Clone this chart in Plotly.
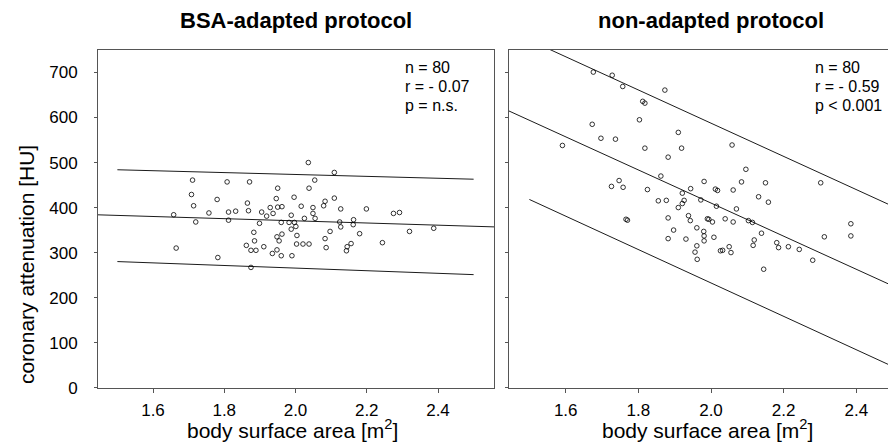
import plotly.graph_objects as go

W, H = 896, 446

# ---------------- data ----------------
bsa_adapted = [
    2.036, 1.711, 1.808, 1.871, 2.054, 1.950, 2.038, 1.708, 1.780, 1.946,
    1.996, 1.865, 1.714, 1.929, 1.950, 1.962, 2.016, 2.049, 2.079, 2.083,
    1.757, 1.812, 1.832, 1.868, 1.905, 1.919, 1.937, 1.988, 2.049, 1.658,
    1.720, 1.812, 1.899, 1.960, 1.982, 1.997, 2.025, 2.055, 2.001, 1.988,
    1.883, 1.962, 1.948, 2.004, 1.954, 1.885, 2.083, 1.862, 1.875, 1.889,
    1.911, 2.003, 2.021, 2.038, 1.665, 2.086, 1.948, 1.935, 1.960, 1.990,
    1.782, 1.875, 2.109, 2.109, 2.127, 2.199, 2.275, 2.292, 2.124, 2.163,
    2.162, 2.127, 2.388, 2.097, 2.180, 2.320, 2.156, 2.145, 2.244, 2.143,
]
hu_adapted = [
    500, 461, 457, 457, 461, 443, 443, 429, 418, 420,
    423, 410, 404, 400, 401, 402, 403, 400, 404, 414,
    388, 390, 392, 393, 390, 381, 387, 383, 387, 384,
    368, 372, 365, 367, 367, 367, 376, 376, 358, 352,
    345, 341, 335, 338, 326, 326, 331, 316, 305, 305,
    313, 319, 319, 319, 310, 311, 306, 298, 293, 293,
    289, 267, 478, 421, 397, 397, 387, 389, 368, 373,
    362, 357, 354, 347, 342, 347, 320, 313, 322, 304,
]

bsa_nonadapted = [
    1.676, 1.728, 1.757, 1.873, 1.812, 1.818, 1.803, 1.673, 1.910, 1.697,
    1.737, 1.591, 1.818, 1.919, 1.882, 1.862, 1.981, 1.747, 1.726, 1.758,
    1.825, 1.944, 1.921, 2.012, 2.018, 1.855, 1.877, 1.926, 1.921, 1.910,
    1.972, 2.015, 1.766, 1.770, 1.882, 1.938, 1.943, 1.990, 1.994, 2.004,
    1.897, 1.961, 1.980, 1.981, 1.981, 2.008, 1.882, 1.931, 1.961, 1.956,
    1.962, 2.058, 2.096, 2.084, 2.150, 2.302, 2.061, 2.131, 2.158, 2.070,
    2.039, 2.061, 2.103, 2.114, 2.385, 2.139, 2.119, 2.116, 2.181, 2.186,
    2.213, 2.243, 2.312, 2.385, 2.050, 2.026, 2.032, 2.055, 2.280, 2.145,
]
hu_nonadapted = [
    701, 694, 669, 661, 636, 632, 595, 585, 567, 554,
    552, 538, 532, 532, 512, 470, 458, 460, 447, 445,
    440, 442, 432, 441, 438, 415, 416, 416, 409, 400,
    417, 403, 374, 372, 377, 382, 371, 375, 374, 368,
    350, 355, 347, 337, 326, 334, 331, 330, 315, 301,
    285, 539, 485, 457, 455, 455, 439, 424, 412, 397,
    375, 368, 371, 367, 364, 343, 328, 316, 322, 311,
    313, 307, 335, 337, 313, 304, 305, 300, 283, 263,
]

# regression line and 95% prediction limits (end points)
fit_x_full = [1.44, 2.56]
fit_x_band = [1.5, 2.5]
adapted_fit = [384, 357]
adapted_upper = [484, 463]
adapted_lower = [280, 251]
nonadapted_fit = [616, 204]
nonadapted_upper = [772, 403]
nonadapted_lower = [418, 47]

x_ticks = [1.6, 1.8, 2.0, 2.2, 2.4]
y_ticks = [0, 100, 200, 300, 400, 500, 600, 700]

stats_adapted = ["n = 80", "r = - 0.07", "p = n.s."]
stats_nonadapted = ["n = 80", "r = - 0.59", "p < 0.001"]
titles = ["BSA-adapted protocol", "non-adapted protocol"]
x_title = "body surface area [m<sup>2</sup>]"
y_title = "coronary attenuation [HU]"

# ---------------- figure ----------------
FONT = "Liberation Sans, Arial, sans-serif"
AXC = "#555555"
fig = go.Figure()

marker = dict(symbol="circle-open", size=4.6, color="black", line=dict(width=0.8, color="black"))
line = dict(color="black", width=0.9)

for xs, ys, fx, fy, up, lo, xa, ya in [
    (bsa_adapted, hu_adapted, fit_x_full, adapted_fit, adapted_upper, adapted_lower, "x", "y"),
    (bsa_nonadapted, hu_nonadapted, fit_x_full, nonadapted_fit, nonadapted_upper, nonadapted_lower, "x2", "y2"),
]:
    fig.add_trace(go.Scatter(x=fx, y=fy, mode="lines", line=line, xaxis=xa, yaxis=ya, showlegend=False, hoverinfo="skip"))
    fig.add_trace(go.Scatter(x=fit_x_band, y=up, mode="lines", line=line, xaxis=xa, yaxis=ya, showlegend=False, hoverinfo="skip"))
    fig.add_trace(go.Scatter(x=fit_x_band, y=lo, mode="lines", line=line, xaxis=xa, yaxis=ya, showlegend=False, hoverinfo="skip"))
    fig.add_trace(go.Scatter(x=xs, y=ys, mode="markers", marker=marker, xaxis=xa, yaxis=ya, showlegend=False))

def px(x):
    return x / W

def py(y):
    return 1 - y / H

ydom = [py(388.3), py(43)]
common_x = dict(tickvals=x_ticks, tickformat=".1f", showline=True, linecolor=AXC, linewidth=1,
                ticks="outside", ticklen=4, tickcolor=AXC, showgrid=False, zeroline=False,
                tickfont=dict(family=FONT, size=17, color="black"), ticklabelstandoff=3)
common_y = dict(range=[0, 750], tickvals=y_ticks, showline=True, linecolor=AXC, linewidth=1,
                ticks="outside", ticklen=3, tickcolor=AXC, showgrid=False, zeroline=False,
                tickfont=dict(family=FONT, size=17, color="black"), ticklabelstandoff=13)

fig.update_layout(
    width=W, height=H, margin=dict(l=0, r=0, t=0, b=0),
    paper_bgcolor="white", plot_bgcolor="white",
    xaxis=dict(domain=[px(90), px(486)], range=[1.4456, 2.5572], anchor="y", mirror=True, **common_x),
    yaxis=dict(domain=ydom, anchor="x", mirror=True, **common_y),
    xaxis2=dict(domain=[px(501), 1.0], range=[1.4439, 2.5313], anchor="y2", mirror=True, **common_x),
    yaxis2=dict(domain=ydom, anchor="x2", showticklabels=False, mirror=False, **common_y),
)

ann = []
for cx, t in [(288, titles[0]), (703, titles[1])]:
    ann.append(dict(x=px(cx), y=py(13), xref="paper", yref="paper", text="<b>" + t + "</b>",
                    showarrow=False, xanchor="center", yanchor="middle",
                    font=dict(family=FONT, size=22, color="black")))
for cx in [284, 699]:
    ann.append(dict(x=px(cx), y=py(431), xref="paper", yref="paper", text=x_title,
                    showarrow=False, xanchor="center", yanchor="middle",
                    font=dict(family=FONT, size=21, color="black")))
ann.append(dict(x=px(18), y=py(263), xref="paper", yref="paper", text=y_title, textangle=-90,
                showarrow=False, xanchor="center", yanchor="middle",
                font=dict(family=FONT, size=21, color="black")))
for lx, lines in [(395, stats_adapted), (805, stats_nonadapted)]:
    for i, t in enumerate(lines):
        ann.append(dict(x=px(lx), y=py(61 + 19.5 * i), xref="paper", yref="paper", text=t,
                        showarrow=False, xanchor="left", yanchor="middle",
                        font=dict(family=FONT, size=16, color="black")))
fig.update_layout(annotations=ann)

fig.write_html("out.html")
